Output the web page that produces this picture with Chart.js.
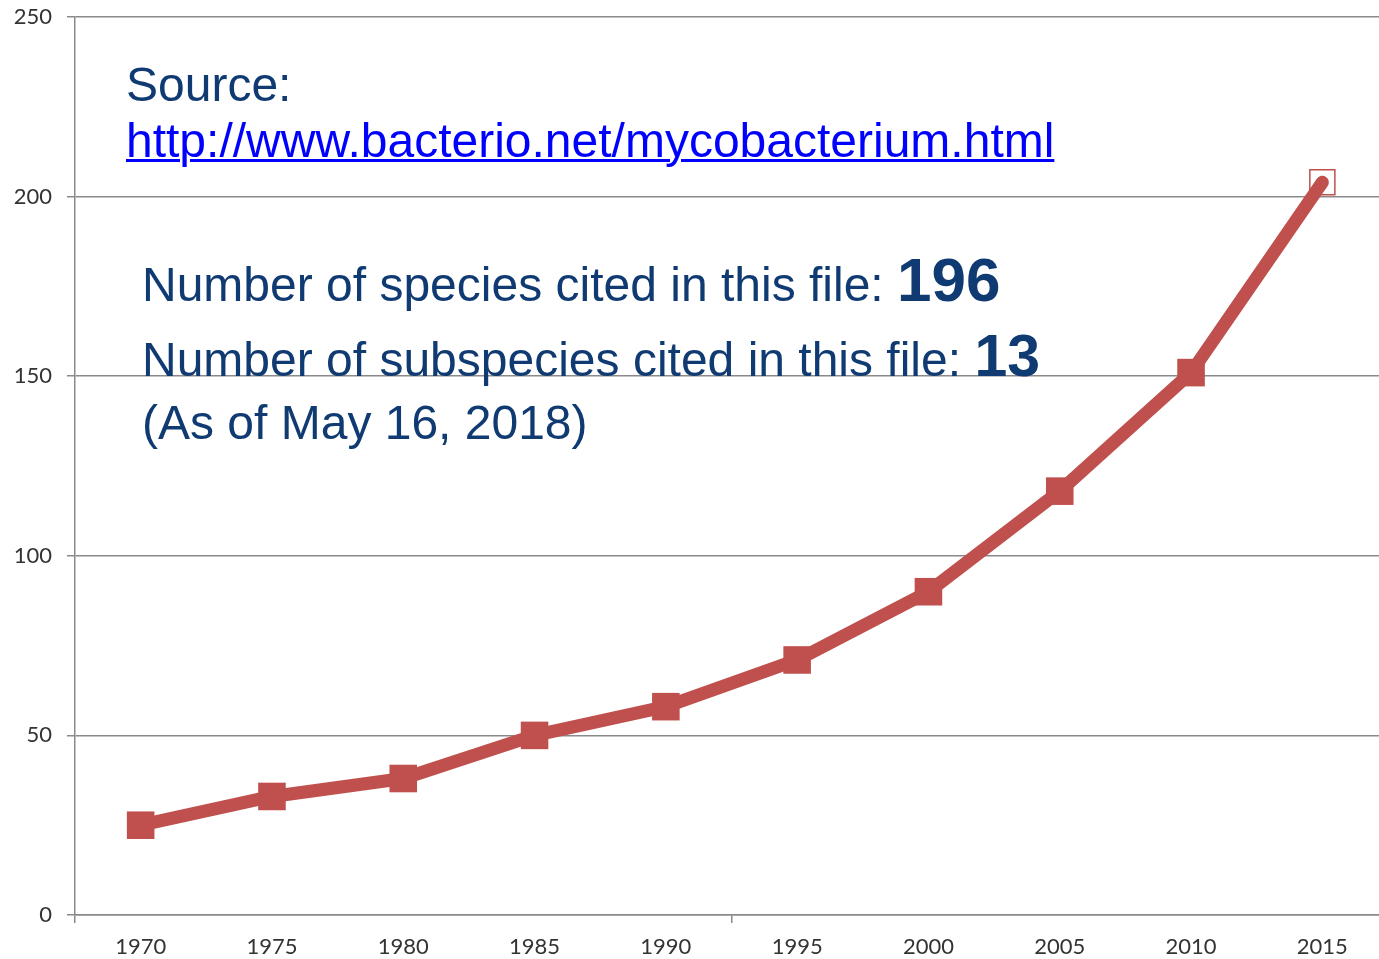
<!DOCTYPE html>
<html>
<head>
<meta charset="utf-8">
<script src="https://cdn.jsdelivr.net/npm/chart.js@4/dist/chart.umd.min.js"></script>
<style>
  html, body { margin: 0; padding: 0; background: #fff; overflow: hidden; }
  #wrap { position: relative; width: 1379px; height: 959px; overflow: hidden; }
  #chartCanvas { position: absolute; left: 0; top: 0; }
  .note {
    position: absolute;
    font-family: "Liberation Sans", Arial, sans-serif;
    font-size: 48px;
    line-height: 1;
    color: #103a72;
    white-space: nowrap;
  }
  .note a { color: #0000ff; text-decoration: underline; text-decoration-thickness: 3px; }
  .note b { line-height: 0; }
</style>
</head>
<body>
<div id="wrap">
  <canvas id="chartCanvas" width="1392" height="959"></canvas>
  <div class="note" style="left:126px; top:61px;">Source:</div>
  <div class="note" style="left:126px; top:117px;"><a href="http://www.bacterio.net/mycobacterium.html">http://www.bacterio.net/mycobacterium.html</a></div>
  <div class="note" style="left:142px; top:261px;">Number of species cited in this file: <b style="font-size:62px;">196</b></div>
  <div class="note" style="left:142px; top:336px;">Number of subspecies cited in this file: <b style="font-size:59px;">13</b></div>
  <div class="note" style="left:142px; top:399px;">(As of May 16, 2018)</div>
</div>
<script>
"use strict";

const years = ["1970", "1975", "1980", "1985", "1990", "1995", "2000", "2005", "2010", "2015"];
const speciesCount = [25, 33, 38, 50, 58, 71, 90, 118, 151, 204];
const yTicks = [0, 50, 100, 150, 200, 250];

const lineRed = "#c0504d";
const gridGray = "#8a8a8a";
const lastIdx = speciesCount.length - 1;

const ctx = document.getElementById("chartCanvas").getContext("2d");

new Chart(ctx, {
  type: "line",
  data: {
    labels: years,
    datasets: [
      {
        label: "Species",
        data: speciesCount,
        borderColor: lineRed,
        borderWidth: 13,
        borderCapStyle: "round",
        borderJoinStyle: "round",
        tension: 0,
        fill: false,
        clip: false,
        pointStyle: "rect",
        pointRadius: speciesCount.map((v, i) => (i === lastIdx ? 17.7 : 19.5)),
        pointBackgroundColor: speciesCount.map((v, i) => (i === lastIdx ? "rgba(0,0,0,0)" : lineRed)),
        pointBorderColor: lineRed,
        pointBorderWidth: speciesCount.map((v, i) => (i === lastIdx ? 1.5 : 0)),
      },
    ],
  },
  options: {
    responsive: false,
    animation: false,
    events: [],
    layout: { autoPadding: false, padding: { top: 17, right: 4, left: 0, bottom: 0 } },
    plugins: {
      legend: { display: false },
      tooltip: { enabled: false },
    },
    scales: {
      x: {
        offset: true,
        afterFit: (scale) => { scale.height = 44; },
        border: { display: true, color: gridGray, width: 1.5 },
        grid: {
          offset: true,
          drawOnChartArea: false,
          tickLength: 8,
          lineWidth: 1.5,
          color: (c) => (c.index % 5 === 0 ? gridGray : "rgba(0,0,0,0)"),
        },
        ticks: {
          padding: 11,
          color: "#333333",
          font: { family: "Lato, 'Open Sans', sans-serif", size: 22 },
          maxRotation: 0,
        },
      },
      y: {
        min: 0,
        max: 250,
        afterFit: (scale) => { scale.width = 75; },
        afterBuildTicks: (scale) => { scale.ticks = yTicks.map((v) => ({ value: v })); },
        border: { display: true, color: gridGray, width: 1.5 },
        grid: { color: gridGray, lineWidth: 1.5, tickLength: 8 },
        ticks: {
          padding: 15,
          color: "#333333",
          font: { family: "Lato, 'Open Sans', sans-serif", size: 22, lineHeight: 0.1 },
        },
      },
    },
  },
});
</script>
</body>
</html>
